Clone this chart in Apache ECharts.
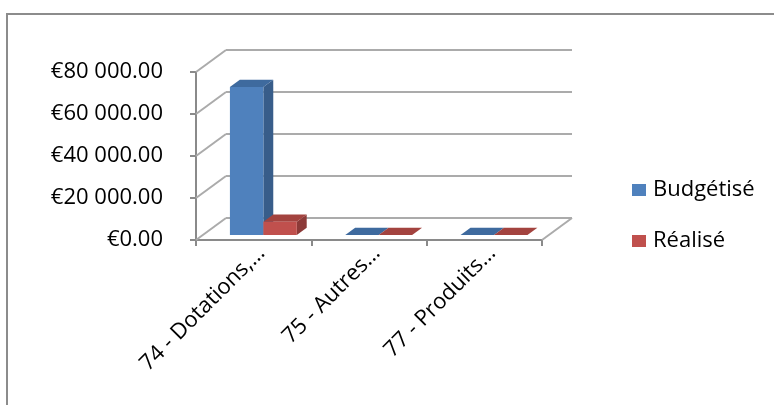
<!DOCTYPE html>
<html>
<head>
<meta charset="utf-8">
<script src="https://cdn.jsdelivr.net/npm/echarts@6/dist/echarts.min.js"></script>
<style>
html,body{margin:0;padding:0;background:#fff;}
#chart{width:774px;height:405px;}
</style>
</head>
<body>
<div id="chart"></div>
<script>
const categories = ['74 - Dotations,…', '75 - Autres…', '77 - Produits…'];
const seriesNames = ['Budgétisé', 'Réalisé'];
const budgetise = [70500, 0, 0];
const realise = [6300, 0, 0];
const yTicks = [0, 20000, 40000, 60000, 80000];

const FONT = "'Open Sans', sans-serif";
const DX = 30, DY = -22;          // depth of the 3D box (style)
const F0 = 0.23, F1 = 0.56;       // bar depth placement (fraction)
const BAR_FRAC = 0.29, SHIFT = 2.8;
const GRID_COLOR = '#ABABAB';
const AXIS_COLOR = '#8A8A8A';

function fmt(v) {
  const s = String(Math.round(v)).replace(/\B(?=(\d{3})+(?!\d))/g, ' ');
  return '€' + s + '.00';
}

function barRenderer(idx, front, side, top) {
  return function (params, api) {
    const i = api.value(0), v = api.value(1);
    const base = api.coord([i, 0]);
    const tp = api.coord([i, v]);
    const band = api.size([1, 0])[0];
    const w = band * BAR_FRAC;
    const L = base[0] - w + SHIFT + idx * w, R = L + w;
    const fx = DX * F0, fy = DY * F0, bx = DX * F1, by = DY * F1;
    const yb = base[1], yt = tp[1];
    return {
      type: 'group',
      children: [
        { type: 'polygon', shape: { points: [[R + fx, yt + fy], [R + bx, yt + by], [R + bx, yb + by], [R + fx, yb + fy]] }, style: { fill: side } },
        { type: 'polygon', shape: { points: [[L + fx, yt + fy], [R + fx, yt + fy], [R + bx, yt + by], [L + bx, yt + by]] }, style: { fill: top } },
        { type: 'rect', shape: { x: L + fx, y: yt + fy, width: w, height: yb - yt }, style: { fill: front } }
      ]
    };
  };
}

function wallRenderer(params, api) {
  const cs = params.coordSys;
  const v = api.value(1);
  const y = api.coord([0, v])[1];
  const x0 = cs.x, x1 = cs.x + cs.width;
  const st = { stroke: GRID_COLOR, lineWidth: 2, fill: null };
  const children = [
    { type: 'line', shape: { x1: x0, y1: y, x2: x0 + DX, y2: y + DY }, style: st },
    { type: 'line', shape: { x1: x0 + DX, y1: y + DY, x2: x1 + DX, y2: y + DY }, style: st }
  ];
  if (v === 0) {
    children.push({ type: 'line', shape: { x1: x1, y1: y, x2: x1 + DX, y2: y + DY }, style: st });
  }
  return { type: 'group', children: children };
}

const chart = echarts.init(document.getElementById('chart'), null, { renderer: 'canvas' });
chart.setOption({
  animation: false,
  backgroundColor: '#fff',
  textStyle: { fontFamily: FONT },
  graphic: [{
    type: 'rect', z: 100, silent: true,
    shape: { x: 7, y: 14, width: 900, height: 600 },
    style: { fill: null, stroke: '#8C8C8C', lineWidth: 2 }
  }],
  legend: {
    data: seriesNames,
    orient: 'vertical',
    left: 627, top: 174,
    itemWidth: 14, itemHeight: 12, itemGap: 29,
    icon: 'rect',
    textStyle: { fontSize: 22, fontFamily: FONT, color: '#000', padding: [0, 0, 0, 2] }
  },
  grid: { left: 196, right: 232, top: 72, bottom: 165, outerBoundsMode: 'none', containLabel: false },
  xAxis: {
    type: 'category',
    data: categories,
    boundaryGap: true,
    axisLine: { show: true, lineStyle: { color: AXIS_COLOR, width: 2 } },
    axisTick: { show: true, length: 6, alignWithLabel: false, lineStyle: { color: AXIS_COLOR, width: 2 } },
    axisLabel: { interval: 0, rotate: 45, fontSize: 22, fontFamily: FONT, color: '#000', margin: 2, verticalAlign: 'top' },
    splitLine: { show: false }
  },
  yAxis: {
    type: 'value',
    min: 0, max: 80000, interval: 20000,
    axisLine: { show: true, lineStyle: { color: AXIS_COLOR, width: 2 } },
    axisTick: { show: true, length: 6, lineStyle: { color: AXIS_COLOR, width: 2 } },
    axisLabel: { fontSize: 22, fontFamily: FONT, color: '#000', margin: 33, formatter: fmt },
    splitLine: { show: false }
  },
  series: [
    {
      type: 'custom', name: 'wall', silent: true,
      renderItem: wallRenderer,
      encode: { x: 0, y: 1 },
      data: yTicks.map(v => [0, v])
    },
    {
      type: 'custom', name: seriesNames[0],
      itemStyle: { color: '#4F81BD' },
      renderItem: barRenderer(0, '#4F81BD', '#385D8A', '#3E6A9E'),
      encode: { x: 0, y: 1 },
      data: budgetise.map((v, i) => [i, v])
    },
    {
      type: 'custom', name: seriesNames[1],
      itemStyle: { color: '#C0504D' },
      renderItem: barRenderer(1, '#C0504D', '#8C3A38', '#A3433F'),
      encode: { x: 0, y: 1 },
      data: realise.map((v, i) => [i, v])
    }
  ]
});
</script>
</body>
</html>
